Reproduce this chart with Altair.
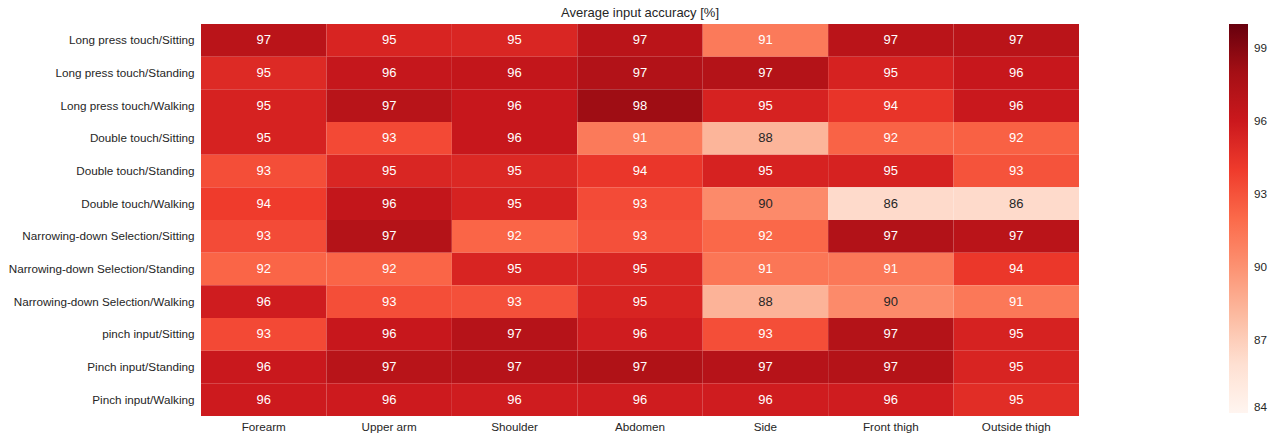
import altair as alt
import pandas as pd

rows = [
    "Long press touch/Sitting", "Long press touch/Standing", "Long press touch/Walking",
    "Double touch/Sitting", "Double touch/Standing", "Double touch/Walking",
    "Narrowing-down Selection/Sitting", "Narrowing-down Selection/Standing",
    "Narrowing-down Selection/Walking", "pinch input/Sitting", "Pinch input/Standing",
    "Pinch input/Walking",
]
cols = ["Forearm", "Upper arm", "Shoulder", "Abdomen", "Side", "Front thigh", "Outside thigh"]

values = [
    [96.9, 95.3, 95.2, 96.9, 91.2, 96.9, 96.9],
    [95.0, 96.3, 96.4, 97.3, 97.2, 95.4, 96.2],
    [95.4, 97.0, 96.2, 98.2, 95.4, 94.4, 96.1],
    [95.4, 93.4, 96.2, 91.2, 88.3, 92.3, 92.4],
    [93.2, 95.2, 95.1, 94.3, 95.4, 95.4, 93.0],
    [94.0, 96.4, 95.4, 93.3, 90.4, 86.3, 86.3],
    [93.3, 97.2, 92.2, 93.1, 92.1, 97.3, 96.9],
    [92.2, 92.2, 95.3, 95.2, 91.4, 91.3, 94.2],
    [95.8, 93.2, 93.1, 95.3, 88.4, 90.4, 91.3],
    [93.4, 96.2, 97.1, 95.8, 93.2, 97.2, 95.4],
    [96.1, 97.0, 97.1, 97.4, 97.1, 97.2, 95.3],
    [95.9, 95.9, 95.8, 95.8, 95.8, 95.8, 94.8],
]

legend_ticks = [84, 87, 90, 93, 96, 99]
reds = ["#fff5f0", "#fee0d2", "#fcbba1", "#fc9272", "#fb6a4a",
        "#ef3b2c", "#cb181d", "#a50f15", "#67000d"]
vmin, vmax = 84, 100
stops = [vmin + i * (vmax - vmin) / 8 for i in range(9)]

records = []
for r, row in zip(rows, values):
    for c, v in zip(cols, row):
        records.append({"row": r, "col": c, "value": v})
df = pd.DataFrame(records)

FONT = "Liberation Sans"
LBL = 11.7
scale = alt.Scale(domain=stops, range=reds, interpolate="rgb")

base = alt.Chart(df).encode(
    x=alt.X("col:N", sort=cols, title=None,
            axis=alt.Axis(labelAngle=0, ticks=False, domain=False, labelFontSize=LBL,
                          labelColor="#262626", labelPadding=5, labelFont=FONT)),
    y=alt.Y("row:N", sort=rows, title=None,
            axis=alt.Axis(ticks=False, domain=False, labelFontSize=LBL, labelLimit=400,
                          labelColor="#262626", labelPadding=7, labelFont=FONT)),
)

rects = base.mark_rect(strokeWidth=0).encode(
    color=alt.Color("value:Q", scale=scale,
                    legend=alt.Legend(title=None, direction="vertical", gradientLength=389,
                                      gradientThickness=19, values=legend_ticks,
                                      labelFontSize=LBL, labelColor="#262626", labelFont=FONT,
                                      orient="none", legendX=1028, legendY=0,
                                      gradientStrokeWidth=0, labelOffset=6)),
)

texts = base.mark_text(fontSize=13, font=FONT).encode(
    text=alt.Text("value:Q", format=".0f"),
    color=alt.condition(alt.datum.value < 90.8, alt.value("#262626"), alt.value("white")),
)

chart = (rects + texts).properties(
    width=878, height=392,
    title=alt.TitleParams("Average input accuracy [%]", fontSize=13, font=FONT,
                          fontWeight="normal", color="#262626", offset=4),
    autosize=alt.AutoSizeParams(type="none"),
    padding={"left": 201, "top": 24, "right": 195, "bottom": 19},
).configure_view(stroke=None).configure_scale(bandPaddingInner=0, bandPaddingOuter=0)

chart.save("out.html", embed_options={"renderer": "svg", "actions": False})
